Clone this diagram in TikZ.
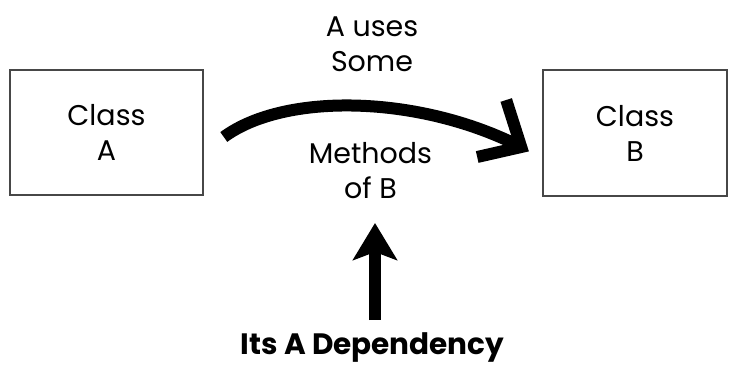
\documentclass[tikz,border=0pt]{standalone}
\usepackage{fontspec}
\setmainfont{Poppins}
\usetikzlibrary{arrows.meta}
\begin{document}
\begin{tikzpicture}[x=1pt,y=-1pt,
  classbox/.style={draw=black!72,line width=1.6pt,align=center,inner sep=0pt,font=\fontsize{28.5}{35}\selectfont},
  lbl/.style={align=center,inner sep=0pt,font=\fontsize{28.5}{35}\selectfont},
  curvearr/.style={line width=12pt},
  headarr/.style={line width=12pt,line join=miter},
  deparr/.style={line width=12pt,-{Stealth[length=37pt,width=44pt,inset=8pt]}}]
\useasboundingbox[fill=white] (0,0) rectangle (729,367);
\node[classbox,minimum width=193pt,minimum height=125pt] (A) at (106.5,132.5) {Class\\A};
\node[classbox,minimum width=184pt,minimum height=126pt] (B) at (635,133) {Class\\B};
\node[lbl] (top) at (372,44.5) {A uses\\Some};
\node[lbl] (meth) at (370.5,170.5) {Methods\\of B};
\node[lbl,font=\fontsize{29.5}{30}\selectfont\bfseries] (dep) at (372.5,348) {Its A Dependency};
\coordinate (s) at ([xshift=20pt,yshift=-4.5pt]A.east);
\coordinate (e) at ([xshift=-21pt,yshift=-14pt]B.west);
\draw[curvearr] (s) .. controls (285,92) and (420,95) .. (e);
\draw[headarr] ([shift={(-15,-47)}]e) -- (e) -- ([shift={(-44,10)}]e);
\draw[deparr] ([xshift=2.5pt,yshift=28pt]dep.center) -- ([xshift=4.5pt,yshift=-52.5pt]meth.center);
\end{tikzpicture}
\end{document}
